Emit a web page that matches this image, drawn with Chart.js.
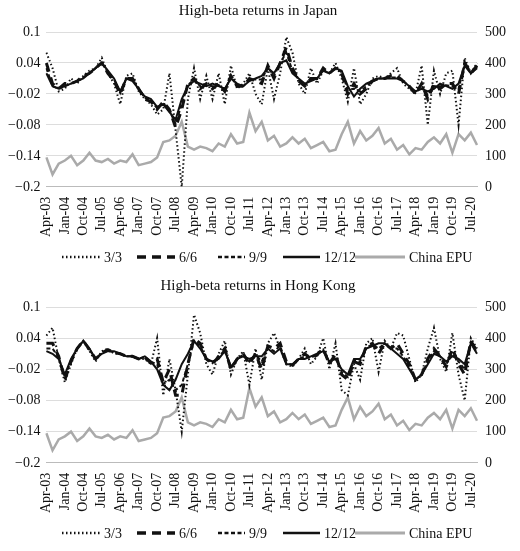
<!DOCTYPE html>
<html><head><meta charset="utf-8">
<script src="https://cdn.jsdelivr.net/npm/chart.js@4/dist/chart.umd.min.js"></script>
<style>body{margin:0;background:#fff}.w{width:520px;height:275px;position:relative}</style>
</head><body>
<div class="w"><canvas id="c1"></canvas></div>
<div class="w" style="height:276px"><canvas id="c2"></canvas></div>
<script>
const months=['Jan','Apr','Jul','Oct'];
const categories=[];
for(let y=3;y<=20;y++){for(let q=0;q<4;q++){if(y===3&&q===0)continue;categories.push(months[q]+'-'+String(y).padStart(2,'0'));}}
const leftTicks=[0.1,0.04,-0.02,-0.08,-0.14,-0.2];
const rightTicks=[500,400,300,200,100,0];
const chinaEPU=[95,40,75,85,100,70,85,110,85,80,90,75,85,80,105,70,75,80,95,145,150,165,210,130,120,130,125,115,140,130,170,140,145,240,180,210,150,165,130,140,160,140,155,125,135,145,115,120,170,210,140,180,150,165,190,140,155,120,135,105,125,120,145,160,140,170,110,170,150,175,135];
const jp3=[0.06,0.03,-0.015,-0.01,0.01,0.0,0.015,0.025,0.03,0.05,0.02,0.0,-0.04,0.015,0.02,-0.015,-0.03,-0.04,-0.06,-0.05,0.02,-0.09,-0.2,-0.03,0.03,-0.03,0.015,-0.03,0.02,-0.04,0.035,-0.01,0.0,0.02,-0.02,-0.04,0.03,-0.03,0.02,0.09,0.06,0.0,-0.02,0.03,0.0,0.025,0.02,0.04,0.01,-0.035,0.03,-0.04,-0.02,0.01,0.015,0.01,0.02,0.03,0.0,-0.01,-0.02,0.035,-0.08,0.025,-0.02,0.02,0.025,-0.08,0.05,0.02,0.04];
const jp6=[0.04,0.0,-0.01,0.0,0.0,0.005,0.015,0.02,0.03,0.04,0.02,0.005,-0.02,0.01,0.01,-0.01,-0.03,-0.035,-0.05,-0.035,-0.05,-0.085,-0.05,0.0,0.01,-0.01,0.0,-0.01,0.0,-0.015,0.015,-0.005,-0.005,0.01,0.005,0.0,0.035,0.01,0.04,0.07,0.03,0.005,-0.005,0.01,0.01,0.03,0.02,0.03,0.02,-0.02,0.0,-0.02,-0.01,0.005,0.01,0.01,0.015,0.015,0.005,-0.005,-0.02,0.0,-0.03,0.0,-0.01,0.0,0.0,-0.02,0.04,0.02,0.035];
const jp9=[0.03,-0.005,-0.01,-0.005,0.0,0.005,0.012,0.02,0.03,0.04,0.022,0.008,-0.018,0.01,0.008,-0.01,-0.028,-0.032,-0.048,-0.038,-0.052,-0.078,-0.04,-0.003,0.008,-0.005,-0.003,-0.005,-0.003,-0.012,0.012,-0.003,-0.005,0.008,0.008,0.008,0.032,0.015,0.04,0.06,0.025,0.008,-0.003,0.008,0.01,0.028,0.02,0.03,0.022,-0.012,-0.01,-0.015,-0.005,0.005,0.01,0.01,0.012,0.012,0.005,-0.005,-0.018,-0.005,-0.022,-0.005,-0.005,-0.003,-0.005,-0.01,0.038,0.02,0.032];
const jp12=[0.02,-0.005,-0.01,-0.005,0.0,0.005,0.01,0.02,0.03,0.04,0.025,0.01,-0.015,0.01,0.005,-0.01,-0.025,-0.03,-0.045,-0.04,-0.055,-0.07,-0.03,-0.005,0.005,0.0,-0.005,0.0,-0.005,-0.01,0.01,0.0,-0.005,0.005,0.01,0.015,0.03,0.02,0.04,0.045,0.02,0.01,0.0,0.005,0.01,0.025,0.02,0.03,0.025,-0.005,-0.025,-0.01,0.0,0.005,0.01,0.01,0.01,0.01,0.005,-0.005,-0.015,-0.01,-0.015,-0.01,0.0,-0.005,-0.01,0.0,0.035,0.02,0.03];
const hk3=[0.045,0.06,0.0,-0.045,-0.01,0.02,0.035,0.015,-0.005,0.015,0.02,0.01,0.01,0.005,0.005,0.0,0.0,-0.01,0.04,-0.07,0.0,-0.06,-0.14,-0.03,0.085,0.05,-0.01,-0.03,0.01,0.035,-0.03,0.0,0.015,-0.05,0.02,-0.04,0.03,0.05,0.02,-0.01,-0.015,0.0,0.02,-0.01,0.005,0.04,-0.02,0.03,-0.06,-0.07,-0.01,-0.04,0.03,0.04,-0.025,0.035,0.02,0.05,0.045,0.0,-0.045,-0.03,0.02,0.06,0.0,-0.025,0.05,-0.03,-0.08,0.04,0.02];
const hk6=[0.03,0.03,0.005,-0.04,-0.005,0.02,0.035,0.018,0.0,0.012,0.018,0.012,0.01,0.005,0.005,0.0,0.003,-0.008,0.0,-0.045,-0.02,-0.07,-0.07,-0.01,0.04,0.03,0.0,-0.01,0.005,0.02,-0.02,0.0,0.01,-0.01,0.01,-0.02,0.025,0.02,0.03,-0.005,-0.012,0.0,0.01,0.0,0.008,0.02,-0.01,0.01,-0.03,-0.04,-0.005,-0.01,0.025,0.03,0.01,0.03,0.02,0.03,0.01,-0.01,-0.04,-0.03,0.0,0.02,0.005,-0.015,0.02,-0.01,-0.03,0.035,0.015];
const hk9=[0.02,0.02,0.003,-0.035,-0.003,0.02,0.035,0.018,0.0,0.012,0.016,0.013,0.01,0.005,0.005,0.0,0.004,-0.006,-0.01,-0.048,-0.04,-0.06,-0.05,-0.01,0.035,0.025,0.0,-0.008,0.003,0.018,-0.018,0.0,0.008,-0.005,0.008,-0.005,0.022,0.015,0.025,-0.008,-0.011,0.0,0.005,0.002,0.009,0.018,-0.008,0.005,-0.025,-0.035,-0.003,-0.005,0.022,0.028,0.02,0.03,0.02,0.02,0.005,-0.015,-0.04,-0.03,-0.005,0.015,0.005,-0.01,0.01,-0.005,-0.02,0.032,0.012];
const hk12=[0.015,0.01,0.0,-0.03,0.0,0.02,0.035,0.02,0.0,0.01,0.015,0.015,0.01,0.005,0.005,0.0,0.005,-0.005,-0.02,-0.05,-0.06,-0.04,-0.01,0.01,0.035,0.02,0.0,-0.005,0.0,0.015,-0.015,0.0,0.005,0.0,0.005,0.005,0.02,0.01,0.02,-0.01,-0.01,0.0,0.0,0.005,0.01,0.015,-0.005,0.0,-0.02,-0.03,0.0,0.0,0.02,0.025,0.03,0.03,0.02,0.01,0.0,-0.02,-0.04,-0.03,-0.01,0.01,0.005,-0.005,0.005,0.0,-0.01,0.03,0.01];

const FF='"Liberation Serif", serif';
const legendPlugin={id:'lg',afterDraw(chart){
  const ctx=chart.ctx, y=chart.height-18;
  const items=[[62,100,0],[137,175,1],[218,245,2],[283,320,3],[355,405,4]];
  ctx.save();ctx.font='14px '+FF;ctx.fillStyle='#111';ctx.textBaseline='middle';
  items.forEach(([x0,x1,i])=>{const d=chart.data.datasets[i];
    ctx.beginPath();ctx.setLineDash(d.borderDash||[]);ctx.strokeStyle=d.borderColor;ctx.lineWidth=d.borderWidth+0.5;
    ctx.moveTo(x0,y);ctx.lineTo(x1,y);ctx.stroke();ctx.setLineDash([]);
    ctx.fillText(d.label,x1+4,y+1);});
  ctx.restore();}};

function makeChart(id,title,s3,s6,s9,s12){
  const ser=[
    {label:'3/3',data:s3,borderColor:'#111',borderWidth:2,borderDash:[1.5,2.5],yAxisID:'y'},
    {label:'6/6',data:s6,borderColor:'#111',borderWidth:3,borderDash:[9,6],yAxisID:'y'},
    {label:'9/9',data:s9,borderColor:'#111',borderWidth:2,borderDash:[4,2.5],yAxisID:'y'},
    {label:'12/12',data:s12,borderColor:'#111',borderWidth:2,yAxisID:'y'},
    {label:'China EPU',data:chinaEPU,borderColor:'#aaa',borderWidth:2.5,yAxisID:'y2'}
  ];
  ser.forEach(d=>{d.pointRadius=0;d.tension=0;d.fill=false;d.backgroundColor=d.borderColor;});
  const font={family:FF,size:14};
  new Chart(document.getElementById(id),{type:'line',data:{labels:categories,datasets:ser},plugins:[legendPlugin],
    options:{responsive:true,maintainAspectRatio:false,animation:false,
      layout:{padding:{left:2,right:6,top:0,bottom:36}},
      plugins:{title:{display:true,text:title,color:'#111',font:{family:FF,size:15,weight:'normal'},padding:{top:2,bottom:12}},
        legend:{display:false},tooltip:{enabled:false}},
      scales:{
        x:{grid:{display:false},border:{color:'#bbb'},ticks:{autoSkip:false,maxRotation:90,minRotation:90,color:'#111',font:font,padding:2,
          callback:function(v,i){return i%3===0?categories[i]:'';}}},
        y:{position:'left',min:-0.2,max:0.1,afterBuildTicks:a=>{a.ticks=leftTicks.map(v=>({value:v}));},
          grid:{color:'#ddd',drawTicks:false},border:{display:false},ticks:{color:'#111',font:font,padding:6,callback:v=>String(v).replace('-','\u2212')}},
        y2:{position:'right',min:0,max:500,afterBuildTicks:a=>{a.ticks=rightTicks.map(v=>({value:v}));},
          grid:{display:false,drawTicks:false},border:{display:false},ticks:{color:'#111',font:font,padding:8}}
      }}});
}
makeChart('c1','High-beta returns in Japan',jp3,jp6,jp9,jp12);
makeChart('c2','High-beta returns in Hong Kong',hk3,hk6,hk9,hk12);
</script></body></html>
